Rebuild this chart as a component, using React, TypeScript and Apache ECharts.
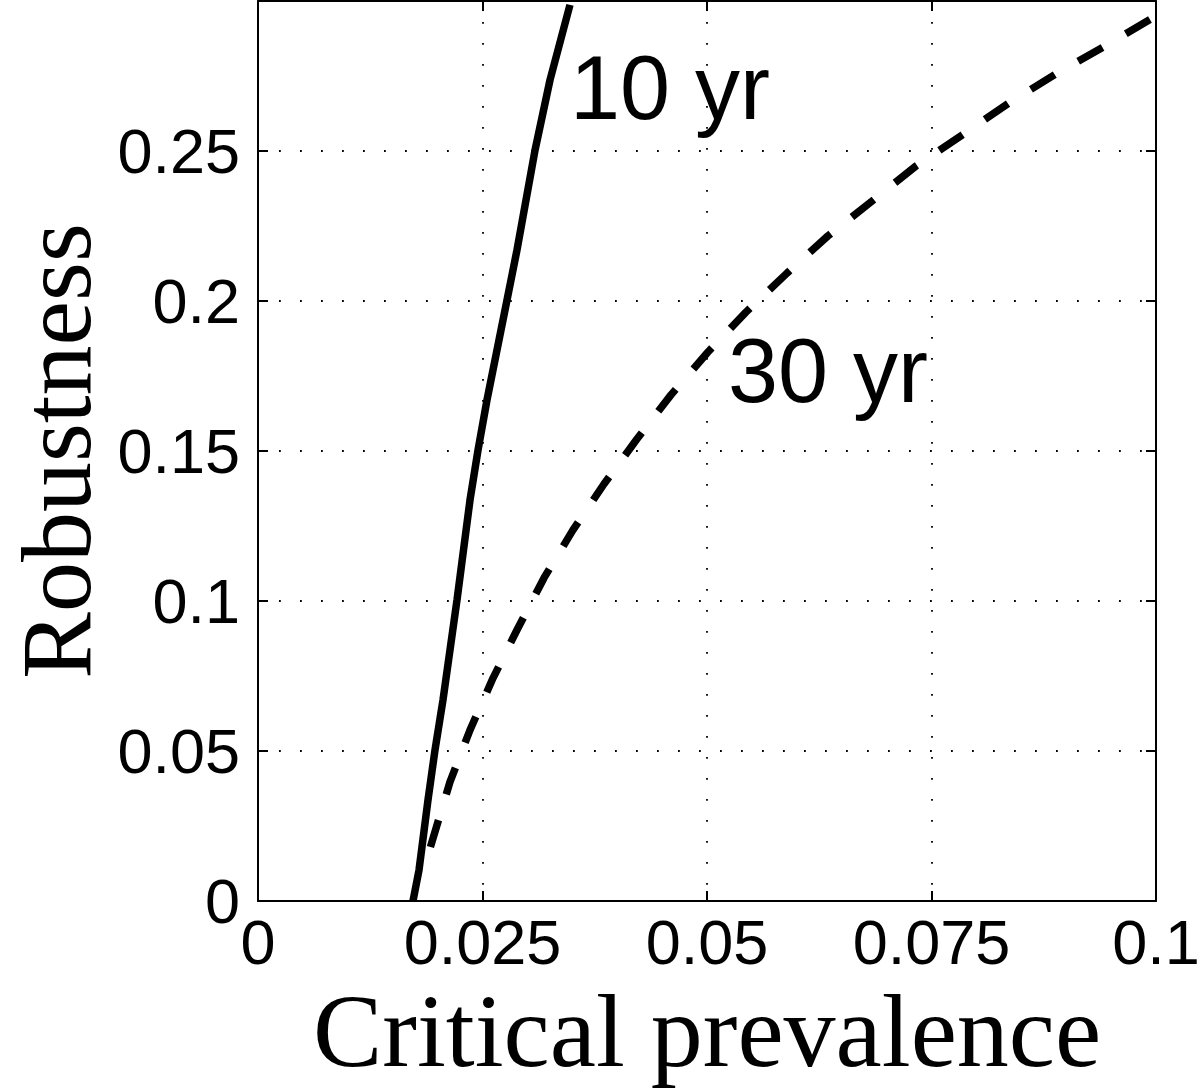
import React, { useEffect, useRef } from "react";
import * as echarts from "echarts";

const xTickLabels = ["0", "0.025", "0.05", "0.075", "0.1"];
const yTickLabels = ["0", "0.05", "0.1", "0.15", "0.2", "0.25"];

const tenYear: [number, number][] = [
  [0.01726, 0],
  [0.01793, 0.0103],
  [0.01893, 0.0337],
  [0.01971, 0.0503],
  [0.0206, 0.067],
  [0.02216, 0.1003],
  [0.02361, 0.1337],
  [0.0245, 0.1503],
  [0.0255, 0.167],
  [0.02773, 0.2003],
  [0.02884, 0.217],
  [0.03085, 0.2503],
  [0.03252, 0.2737],
  [0.03474, 0.2987],
];

const thirtyYear: [number, number][] = [
  [0.0192, 0.018],
  [0.02138, 0.0397],
  [0.02361, 0.057],
  [0.02617, 0.0743],
  [0.02895, 0.091],
  [0.03185, 0.1077],
  [0.03508, 0.1237],
  [0.03853, 0.139],
  [0.0422, 0.154],
  [0.04599, 0.1687],
  [0.05011, 0.183],
  [0.05434, 0.1963],
  [0.05891, 0.2093],
  [0.06347, 0.2217],
  [0.06837, 0.2333],
  [0.07327, 0.245],
  [0.0784, 0.2553],
  [0.08363, 0.266],
  [0.08886, 0.2757],
  [0.09432, 0.285],
  [0.1, 0.295],
];

const SANS = "'Liberation Sans', Arial, Helvetica, sans-serif";
const SERIF = "'Liberation Serif', 'Times New Roman', serif";

export default function App() {
  const ref = useRef<HTMLDivElement>(null);
  useEffect(() => {
    if (!ref.current) return;
    const chart = echarts.init(ref.current, undefined, { renderer: "svg" });
    const axisLine = { show: true, onZero: false, lineStyle: { color: "#000", width: 2 } };
    const tick = { show: true, inside: true, length: 10, lineStyle: { color: "#000", width: 2 } };
    const split = {
      show: true,
      lineStyle: { color: "#000", width: 1.8, type: [1.8, 19.2] as any },
    };
    chart.setOption({
      animation: false,
      backgroundColor: "#fff",
      grid: {
        left: 258,
        top: 1,
        right: 44,
        bottom: 187,
        containLabel: false,
        outerBoundsMode: "none",
      },
      xAxis: [
        {
          type: "value",
          min: 0,
          max: 0.1,
          interval: 0.025,
          position: "bottom",
          axisLine,
          axisTick: tick,
          splitLine: split,
          axisLabel: {
            color: "#000",
            fontSize: 63,
            fontFamily: SANS,
            margin: 9,
            formatter: (_v: number, i: number) => xTickLabels[i] ?? "",
          },
          name: "Critical prevalence",
          nameLocation: "middle",
          nameGap: 85,
          nameTextStyle: { color: "#000", fontSize: 104, lineHeight: 88, fontFamily: SERIF },
        },
        {
          type: "value",
          min: 0,
          max: 0.1,
          interval: 0.025,
          position: "top",
          axisLine,
          axisTick: tick,
          splitLine: { show: false },
          axisLabel: { show: false },
        },
      ],
      yAxis: [
        {
          type: "value",
          min: 0,
          max: 0.3,
          interval: 0.05,
          position: "left",
          axisLine,
          axisTick: tick,
          splitLine: split,
          axisLabel: {
            color: "#000",
            fontSize: 63,
            fontFamily: SANS,
            margin: 18,
            formatter: (_v: number, i: number) => yTickLabels[i] ?? "",
          },
          name: "Robustness",
          nameLocation: "middle",
          nameGap: 158,
          nameTextStyle: { color: "#000", fontSize: 100, lineHeight: 86, fontFamily: SERIF },
        },
        {
          type: "value",
          min: 0,
          max: 0.3,
          interval: 0.05,
          position: "right",
          axisLine,
          axisTick: tick,
          splitLine: { show: false },
          axisLabel: { show: false },
        },
      ],
      series: [
        {
          name: "10 yr",
          type: "line",
          data: tenYear,
          showSymbol: false,
          symbol: "none",
          lineStyle: { color: "#000", width: 7.5, type: "solid" },
          z: 5,
        },
        {
          name: "30 yr",
          type: "line",
          data: thirtyYear,
          showSymbol: false,
          symbol: "none",
          lineStyle: { color: "#000", width: 7.5, type: [28, 27] as any, cap: "butt" },
          z: 5,
        },
      ],
      graphic: [
        {
          type: "text",
          x: 570,
          y: 88,
          style: {
            text: "10 yr",
            fill: "#000",
            font: `90px ${SANS}`,
            textAlign: "left",
            textVerticalAlign: "middle",
          },
          z: 10,
        },
        {
          type: "text",
          x: 728,
          y: 371,
          style: {
            text: "30 yr",
            fill: "#000",
            font: `90px ${SANS}`,
            textAlign: "left",
            textVerticalAlign: "middle",
          },
          z: 10,
        },
      ],
    });
    return () => chart.dispose();
  }, []);
  return (
    <div
      ref={ref}
      style={{ position: "absolute", left: 0, top: 0, width: 1200, height: 1088 }}
    />
  );
}
